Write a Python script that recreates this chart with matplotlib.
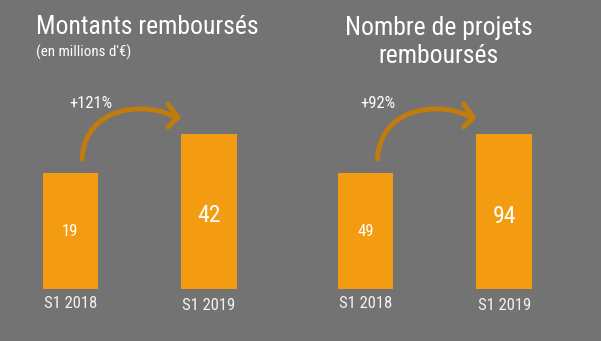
import matplotlib
matplotlib.use('Agg')
import matplotlib.pyplot as plt
from matplotlib.path import Path
from matplotlib.patches import PathPatch

# data
periods = ['S1 2018', 'S1 2019']
montants = [19, 42]          # millions d'€
projets = [49, 94]
growth = ['+121%', '+92%']
titles = ['Montants remboursés', 'Nombre de projets\nremboursés']
subtitle = "(en millions d'€)"

BG = '#737373'
BAR = '#F39C12'
ARROW = '#C27C0B'
plt.rcParams['font.family'] = ['Roboto Condensed', 'DejaVu Sans']

W, H = 601, 341
fig = plt.figure(figsize=(W / 100, H / 100), dpi=100, facecolor=BG)

# overlay in pixel coordinates for titles and arrows
ov = fig.add_axes([0, 0, 1, 1])
ov.set_xlim(0, W)
ov.set_ylim(H, 0)
ov.axis('off')


def px_axes(x0, x1, y_top, y_bot):
    return fig.add_axes([x0 / W, 1 - y_bot / H, (x1 - x0) / W, (y_bot - y_top) / H])


# bars sit on a visual baseline (infographic, not zero based)
panels = [
    (montants, 1.0, -50.1, 1.683),
    (projets, 296.2, -86.2, 0.86),
]
for vals, x0, base, k in panels:
    ax = px_axes(x0, x0 + 277.3, 100, 289)
    ax.set_xlim(-0.5, 1.5)
    ax.set_ylim(base, base + 189 / k)
    ax.axis('off')
    ax.bar([0, 1], [v - base for v in vals], bottom=base, width=0.4, color=BAR)
    for i, v in enumerate(vals):
        mid = base + (v - base) / 2
        ax.text(i, mid - (1 if i == 0 else 4.5) / k, str(v), color='white',
                fontsize=12 if i == 0 else 17, ha='center', va='center')
        ax.annotate(periods[i], (i, base), xytext=(0, -7 if i == 0 else -9.5),
                    textcoords='offset pixels', ha='center', va='top',
                    color='#F2F2F2', fontsize=12)

# titles
ov.text(36, 34.5, titles[0], color='white', fontsize=18.5, ha='left', va='baseline')
ov.text(36, 57, subtitle, color='white', fontsize=10.8, ha='left', va='baseline')
for j, line in enumerate(titles[1].split('\n')):
    ov.text(439, 34.5 + 28.5 * j, line, color='white', fontsize=18.5,
            ha='center', va='baseline')

# growth arrows
for dx, lab, lx in [(0, growth[0], 91), (295.5, growth[1], 377.5)]:
    p0 = (82 + dx, 159)
    p1 = (85 + dx, 104)
    p2 = (150 + dx, 101)
    p3 = (176 + dx, 118)
    path = Path([p0, p1, p2, p3], [Path.MOVETO, Path.CURVE4, Path.CURVE4, Path.CURVE4])
    ov.add_patch(PathPatch(path, fill=False, ec=ARROW, lw=3.5, capstyle='round'))
    ov.plot([168 + dx, 178 + dx, 168 + dx], [104, 117.5, 127], color=ARROW, lw=3.5,
            solid_capstyle='round', solid_joinstyle='round')
    ov.text(lx, 103, lab, color='white', fontsize=12, ha='center', va='center')

fig.savefig('out.png', dpi=100, facecolor=BG)
